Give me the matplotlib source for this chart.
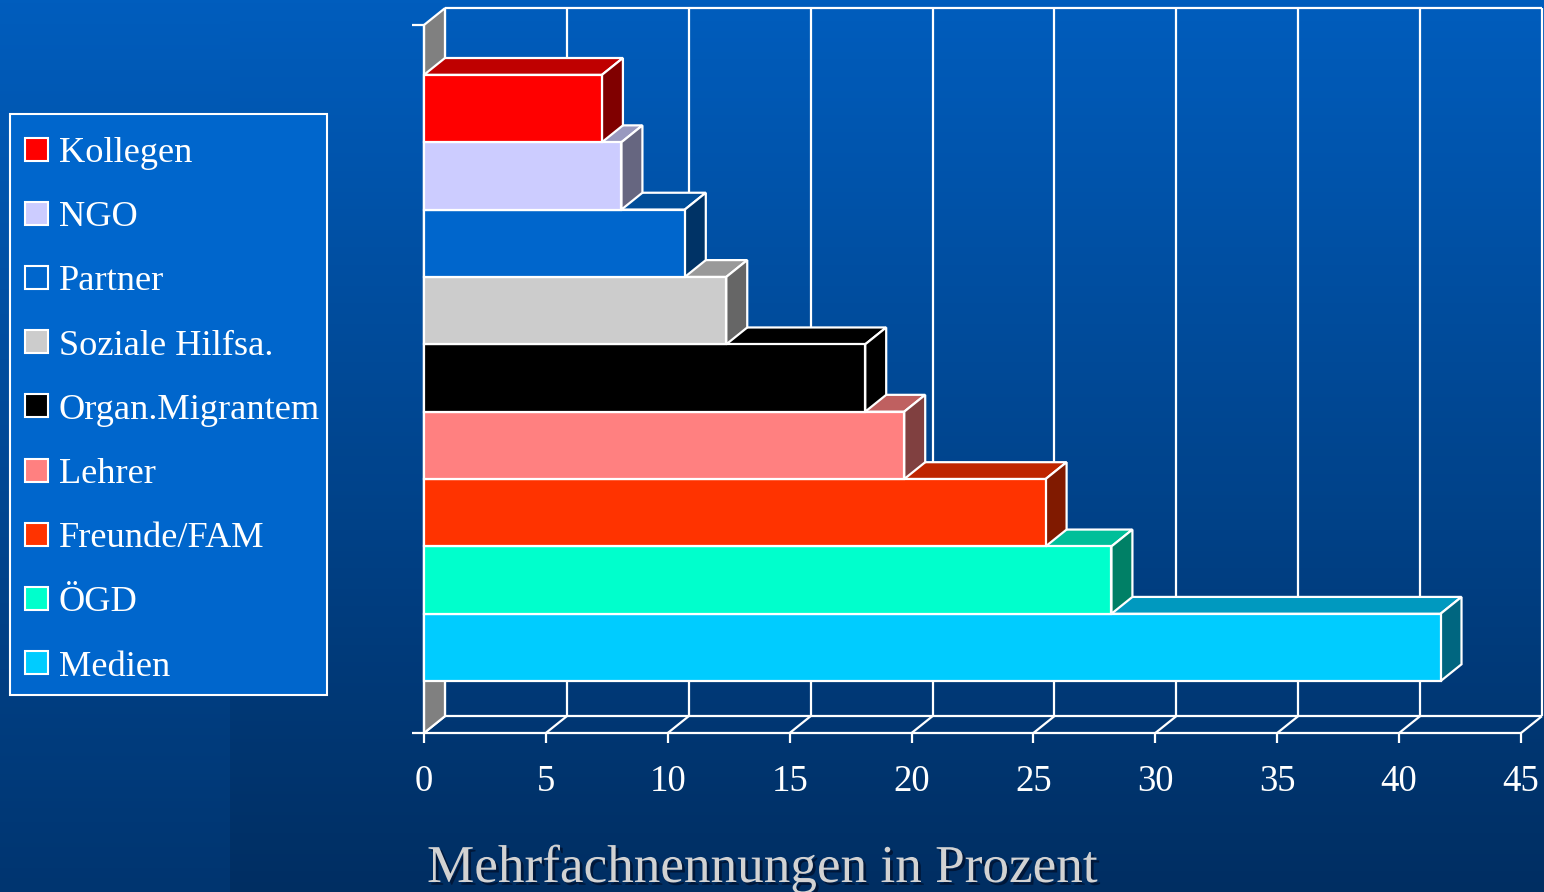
import numpy as np
import matplotlib
matplotlib.use("Agg")
import matplotlib.pyplot as plt
from matplotlib.patches import Polygon, Rectangle
from matplotlib import patheffects as pe

plt.rcParams["font.family"] = ["Liberation Serif", "DejaVu Serif"]

# data, top to bottom as in the legend
categories = ["Kollegen", "NGO", "Partner", "Soziale Hilfsa.", "Organ.Migrantem",
              "Lehrer", "Freunde/FAM", "ÖGD", "Medien"]
values = [7.3, 8.1, 10.7, 12.4, 18.1, 19.7, 25.5, 28.2, 41.7]
colors = ["#FF0000", "#CCCCFF", "#0066CC", "#CCCCCC", "#000000",
          "#FF8080", "#FF3300", "#00FFCC", "#00CCFF"]
x_ticks = list(range(0, 50, 5))
x_label = "Mehrfachnennungen in Prozent"

W, H = 1544, 892
XMAX = 45
YMIN, YMAX = -1.27, 9.24
DX, DY = 0.86, 0.25          # depth of the 3D box, in data units
LW = 1.6
WHITE = "white"


def shade(c, f):
    r, g, b = matplotlib.colors.to_rgb(c)
    return (r * f, g * f, b * f)


fig = plt.figure(figsize=(W / 100, H / 100), dpi=100)

# background: vertical blue gradient, left strip a bit lighter at the bottom
bg = fig.add_axes([0, 0, 1, 1], zorder=0)
bg.set_axis_off()
t = np.linspace(0, 1, 256)[:, None, None]
top = np.array([0, 93, 189]) / 255
bot_main = np.array([0, 46, 98]) / 255
bot_left = np.array([0, 53, 112]) / 255
bg.imshow(top + (bot_main - top) * t, extent=[230, W, H, 0], aspect="auto")
bg.imshow(top + (bot_left - top) * t, extent=[0, 230, H, 0], aspect="auto")
bg.set_xlim(0, W)
bg.set_ylim(H, 0)

ax = fig.add_axes([424 / W, (H - 733) / H, 1097 / W, 708 / H], zorder=1)
ax.patch.set_alpha(0)
ax.set_xlim(0, XMAX)
ax.set_ylim(YMIN, YMAX)
for s in ax.spines.values():
    s.set_visible(False)

line_kw = dict(color=WHITE, lw=LW, clip_on=False, solid_capstyle="butt")

# back wall grid + floor
for v in x_ticks:
    ax.plot([v + DX, v + DX], [YMIN + DY, YMAX + DY], zorder=1, **line_kw)
    ax.plot([v, v + DX], [YMIN, YMIN + DY], zorder=1, **line_kw)
ax.plot([DX, XMAX + DX], [YMAX + DY, YMAX + DY], zorder=1, **line_kw)
ax.plot([DX, XMAX + DX], [YMIN + DY, YMIN + DY], zorder=1, **line_kw)
ax.plot([-0.5, XMAX], [YMIN, YMIN], zorder=1, **line_kw)

# left wall
ax.add_patch(Polygon([(0, YMIN), (DX, YMIN + DY), (DX, YMAX + DY), (0, YMAX)],
                     closed=True, fc="#808080", ec=WHITE, lw=LW, zorder=2, clip_on=False))
ax.plot([0, 0], [YMIN, YMAX], zorder=2, **line_kw)
ax.plot([-0.5, 0], [YMAX, YMAX], zorder=2, **line_kw)

# bars, from bottom (front) to top
n = len(categories)
for i in reversed(range(n)):
    y = n - 1 - i
    v = values[i]
    c = colors[i]
    z = 3 + (n - i)
    y0, y1 = y - 0.5, y + 0.5
    front = [(0, y0), (v, y0), (v, y1), (0, y1)]
    top_face = [(0, y1), (DX, y1 + DY), (v + DX, y1 + DY), (v, y1)]
    side = [(v, y0), (v + DX, y0 + DY), (v + DX, y1 + DY), (v, y1)]
    for pts, f in ((top_face, 0.75), (side, 0.5), (front, 1.0)):
        ax.add_patch(Polygon(pts, closed=True, fc=shade(c, f), ec=WHITE, lw=LW,
                             joinstyle="miter", zorder=z, clip_on=False))

ax.set_yticks([])
ax.set_xticks(x_ticks)
ax.set_xticklabels([str(v) for v in x_ticks])
ax.tick_params(axis="x", length=7, width=LW, color=WHITE, labelcolor=WHITE,
               labelsize=26.5, pad=16)

# legend box (laid out in the pixel space of the background axes)
bg.add_patch(Rectangle((10, 114), 317, 581, fc="#0066CC", ec=WHITE, lw=1.5, zorder=3))
for k, (lab, c) in enumerate(zip(categories, colors)):
    yc = 149 + 64.2 * k
    bg.add_patch(Rectangle((25, yc - 11.5), 23, 23, fc=c, ec=WHITE, lw=1.5, zorder=4))
    bg.text(59, yc + 13, lab, color=WHITE, fontsize=26.2, ha="left", va="baseline", zorder=5)

fig.text(427 / W, 1 - 882 / H, x_label, color="#D2D2D2", fontsize=38.3,
         ha="left", va="baseline",
         path_effects=[pe.SimplePatchShadow(offset=(2, -2), shadow_rgbFace="#001535", alpha=0.9),
                       pe.Normal()])

fig.savefig("out.png", dpi=100)
